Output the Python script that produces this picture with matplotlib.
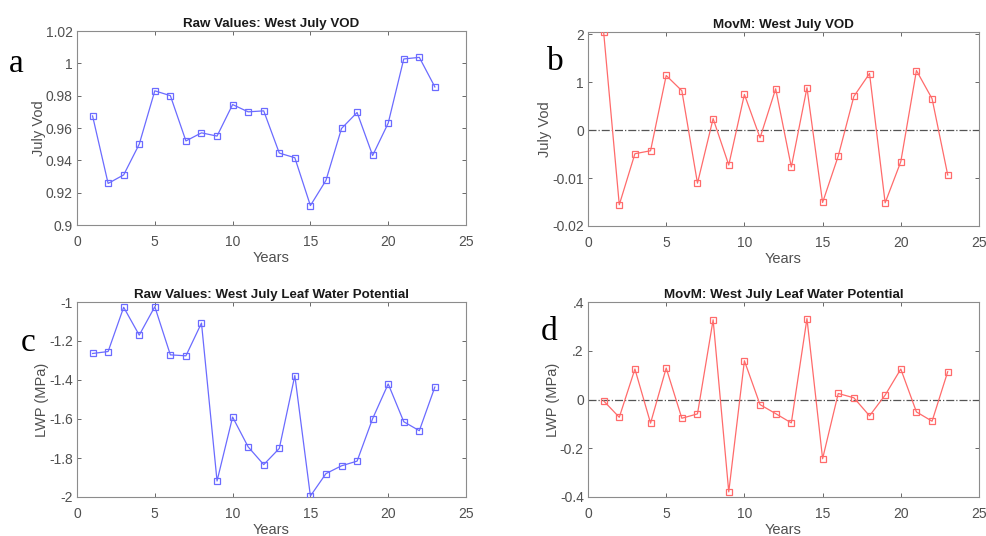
import numpy as np
import matplotlib.pyplot as plt

plt.rcParams['font.family'] = ['Liberation Sans', 'DejaVu Sans']

years = np.arange(1, 24)

# West July VOD, raw values
vod_raw = [0.9675, 0.9257, 0.931, 0.950, 0.983, 0.980, 0.952, 0.957, 0.955, 0.9745,
           0.970, 0.9706, 0.9445, 0.9416, 0.912, 0.9276, 0.9597, 0.9696, 0.943, 0.963,
           1.0027, 1.0037, 0.9854]

# West July VOD, moving-mean anomaly
vod_movm = [0.02048, -0.01557, -0.00491, -0.00429, 0.01142, 0.00824, -0.01107, 0.00242,
            -0.00727, 0.00747, -0.00159, 0.00865, -0.00768, 0.00886, -0.01509, -0.0054,
            0.00706, 0.01183, -0.01516, -0.00657, 0.01246, 0.00657, -0.00934]

# West July leaf water potential, raw values
lwp_raw = [-1.264, -1.254, -1.027, -1.170, -1.024, -1.271, -1.276, -1.108, -1.918, -1.590,
           -1.743, -1.834, -1.751, -1.377, -1.995, -1.880, -1.840, -1.816, -1.598, -1.420,
           -1.614, -1.660, -1.436]

# West July leaf water potential, moving-mean anomaly
lwp_movm = [-0.0055, -0.073, 0.125, -0.097, 0.129, -0.077, -0.059, 0.327, -0.379, 0.159,
            -0.021, -0.058, -0.096, 0.332, -0.243, 0.0247, 0.007, -0.067, 0.018, 0.125,
            -0.051, -0.089, 0.114]

vod_raw_ticks = [0.9, 0.92, 0.94, 0.96, 0.98, 1.0, 1.02]
vod_raw_labels = ["0.9", "0.92", "0.94", "0.96", "0.98", "1", "1.02"]
vod_movm_ticks = [-0.02, -0.01, 0, 0.01, 0.02]
vod_movm_labels = ["-0.02", "-0.01", "0", "1", "2"]
lwp_raw_ticks = [-2, -1.8, -1.6, -1.4, -1.2, -1]
lwp_raw_labels = ["-2", "-1.8", "-1.6", "-1.4", "-1.2", "-1"]
lwp_movm_ticks = [-0.4, -0.2, 0, 0.2, 0.4]
lwp_movm_labels = ["-0.4", "-0.2", "0", ".2", ".4"]

W, H = 987, 536
fig = plt.figure(figsize=(W / 100, H / 100), dpi=100)


def make_ax(left, top, right, bottom):
    return fig.add_axes([left / W, 1 - bottom / H, (right - left) / W, (bottom - top) / H])


panels = [
    (make_ax(77, 31, 466, 225), vod_raw, "#6b6bff", "Raw Values: West July VOD", "July Vod",
     (0.9, 1.02), vod_raw_ticks, vod_raw_labels, False),
    (make_ax(588, 32, 979, 226), vod_movm, "#ff6b6b", "MovM: West July VOD", "July Vod",
     (-0.02, 0.0205), vod_movm_ticks, vod_movm_labels, True),
    (make_ax(77, 302, 466, 497), lwp_raw, "#6b6bff", "Raw Values: West July Leaf Water Potential",
     "LWP (MPa)", (-2, -1), lwp_raw_ticks, lwp_raw_labels, False),
    (make_ax(588, 302, 979, 497), lwp_movm, "#ff6b6b", "MovM: West July Leaf Water Potential",
     "LWP (MPa)", (-0.4, 0.4), lwp_movm_ticks, lwp_movm_labels, True),
]

grey = "#505050"
for ax, vals, col, title, ylab, ylim, yt, ytl, zero in panels:
    if zero:
        ax.axhline(0, color="#555555", linestyle="-.", linewidth=0.9, zorder=1)
    ax.plot(years, vals, color=col, linewidth=0.9, marker="s", markersize=5,
            markerfacecolor="none", markeredgecolor=col, markeredgewidth=0.9, zorder=3)
    ax.set_xlim(0, 25)
    ax.set_ylim(*ylim)
    ax.set_xticks([0, 5, 10, 15, 20, 25])
    ax.set_yticks(yt)
    ax.set_yticklabels(ytl)
    ax.set_title(title, fontsize=9.6, fontweight="bold", color="#1a1a1a", pad=3)
    ax.set_xlabel("Years", fontsize=10.5, color=grey, labelpad=2)
    ax.set_ylabel(ylab, fontsize=10.5, color=grey, labelpad=0)
    ax.tick_params(axis="y", pad=3)
    ax.tick_params(axis="x", pad=7)
    ax.tick_params(direction="in", length=3, width=0.6, colors=grey, labelsize=10,
                   top=True, right=True)
    for s in ax.spines.values():
        s.set_color("#8c8c8c")
        s.set_linewidth(0.8)

# panel letters
for x, y, letter in [(16, 64, "a"), (555, 62, "b"), (28, 343, "c"), (549, 332, "d")]:
    fig.text(x / W, 1 - y / H, letter, fontsize=24, family="Liberation Serif",
             ha="center", va="center")

plt.savefig("out.png", dpi=100)
